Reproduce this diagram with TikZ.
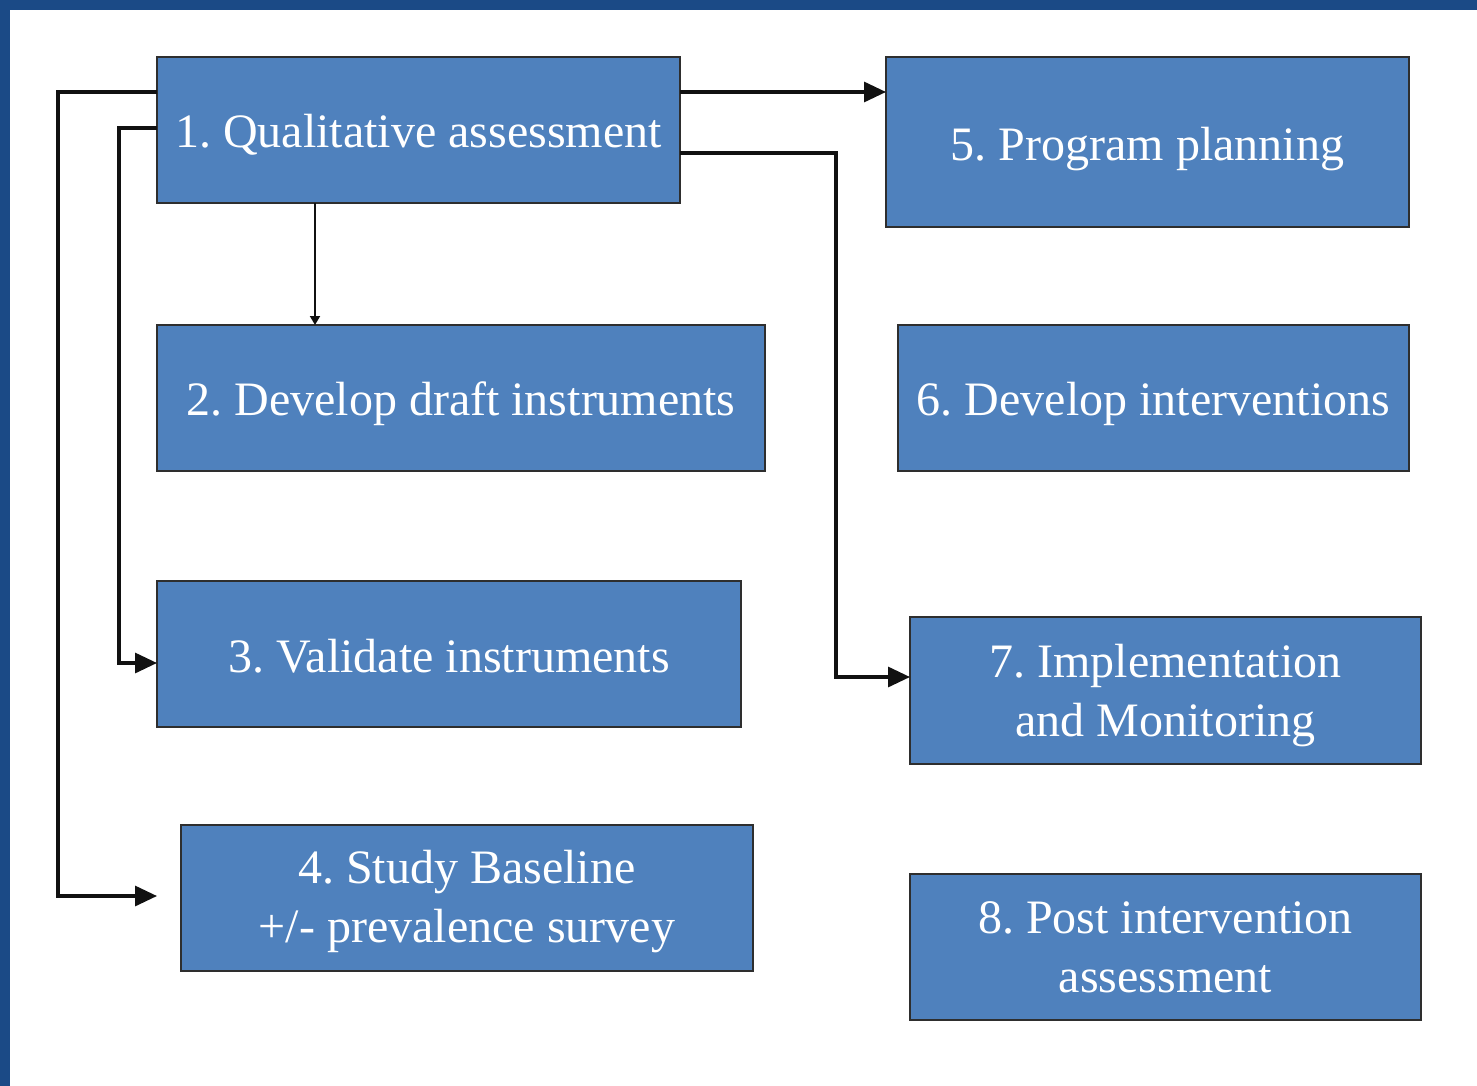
\documentclass[tikz,border=0pt]{standalone}
\usepackage{fontspec}
\setmainfont{Liberation Serif}
\usetikzlibrary{arrows.meta}
\definecolor{frameblue}{HTML}{1B4A86}
\definecolor{boxblue}{HTML}{4F81BD}
\definecolor{boxline}{HTML}{2E2E2E}
\definecolor{lineclr}{HTML}{111111}
\frenchspacing
\begin{document}
\begin{tikzpicture}[x=0.5pt,y=-0.5pt,
  box/.style={draw=boxline, line width=1pt, fill=boxblue, anchor=north west,
    inner sep=0pt, outer sep=0pt},
  txt/.style={text=white, align=center, inner sep=0pt,
    font=\fontsize{24}{29.5}\selectfont},
  conn/.style={draw=lineclr, line width=1.6pt, -{Triangle[length=11pt,width=10pt]}},
  thinconn/.style={draw=lineclr, line width=0.9pt, -{Triangle[length=4.5pt,width=5pt]}}]
\useasboundingbox (0,0) rectangle (1477,1086);
\fill[white] (0,0) rectangle (1477,1086);
\fill[frameblue] (0,0) rectangle (1477,10);
\fill[frameblue] (0,0) rectangle (10,1086);

\node[box, minimum width=261.5pt, minimum height=73pt] (b1) at (157,57) {};
\node[box, minimum width=304pt, minimum height=73pt] (b2) at (157,325) {};
\node[box, minimum width=292pt, minimum height=73pt] (b3) at (157,581) {};
\node[box, minimum width=286pt, minimum height=73pt] (b4) at (181,825) {};
\node[box, minimum width=261.5pt, minimum height=85pt] (b5) at (886,57) {};
\node[box, minimum width=255.5pt, minimum height=73pt] (b6) at (898,325) {};
\node[box, minimum width=255.5pt, minimum height=73.5pt] (b7) at (910,617) {};
\node[box, minimum width=255.5pt, minimum height=73pt] (b8) at (910,874) {};

\node[txt] (t1) at ([yshift=-2.5pt]b1.center) {1. Qualitative assessment};
\node[txt] (t2) at ([yshift=-3pt]b2.center) {2. Develop draft instruments};
\node[txt] (t3) at ([yshift=-1pt]b3.center) {3. Validate instruments};
\node[txt] (t4) at ([yshift=-2pt]b4.center) {4. Study Baseline\\+/- prevalence survey};
\node[txt] (t5) at ([yshift=-3.5pt]b5.center) {5. Program planning};
\node[txt] (t6) at ([yshift=-3pt]b6.center) {6. Develop interventions};
\node[txt] (t7) at ([yshift=-2.5pt]b7.center) {7. Implementation\\and Monitoring};
\node[txt] (t8) at (b8.center) {8. Post intervention\\assessment};

\coordinate (a4) at (157,896);
\draw[conn] (b1.west |- 0,92) -| (58,896) -- (a4);
\draw[conn] (b1.west |- 0,128) -| (119,663) -- (b3.west |- 0,663);
\draw[thinconn] (b1.south -| 315,0) -- (b2.north -| 315,0);
\draw[conn] (b1.east |- 0,92) -- (b5.west |- 0,92);
\draw[conn] (b1.east |- 0,153) -| (836,677) -- (b7.west |- 0,677);
\end{tikzpicture}
\end{document}
